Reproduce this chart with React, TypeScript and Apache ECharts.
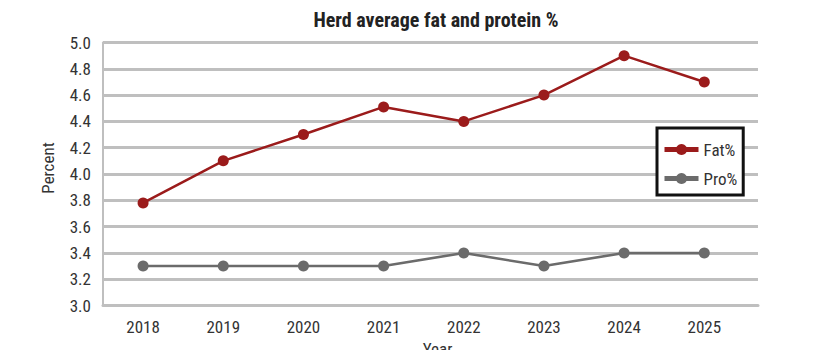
import React, { useEffect, useRef } from "react";
import * as echarts from "echarts";

const years = [2018, 2019, 2020, 2021, 2022, 2023, 2024, 2025];
const fatValues = [3.78, 4.1, 4.3, 4.51, 4.4, 4.6, 4.9, 4.7];
const proValues = [3.3, 3.3, 3.3, 3.3, 3.4, 3.3, 3.4, 3.4];
const titleText = "Herd average fat and protein %";

const FONT = "'Roboto Condensed', 'Liberation Sans Narrow', 'DejaVu Sans Condensed', Roboto, sans-serif";

export default function App() {
  const ref = useRef<HTMLDivElement>(null);
  useEffect(() => {
    if (!ref.current) return;
    const chart = echarts.init(ref.current, null, { renderer: "svg" });
    chart.setOption({
      animation: false,
      backgroundColor: "#ffffff",
      title: {
        text: titleText,
        left: 431,
        textAlign: "center",
        top: 5,
        textStyle: { fontFamily: FONT, fontSize: 20, fontWeight: "bold", color: "#222" },
      },
      grid: {
        left: 103,
        right: 59,
        top: 42.5,
        bottom: 52.5,
        containLabel: false,
        outerBoundsMode: "none",
      },
      legend: {
        orient: "vertical",
        left: 657,
        top: 128,
        width: 82,
        padding: [13, 6, 8, 5],
        itemGap: 12,
        itemWidth: 34,
        itemHeight: 14,
        borderColor: "#111",
        borderWidth: 3,
        backgroundColor: "#fff",
        lineStyle: { width: 5 },
        textStyle: { fontFamily: FONT, fontSize: 17, color: "#333" },
        data: ["Fat%", "Pro%"],
      },
      xAxis: {
        type: "value",
        min: 2017.5,
        max: 2025.67,
        interval: 0.5,
        name: "Year",
        nameLocation: "middle",
        nameGap: 35,
        nameTextStyle: { fontFamily: FONT, fontSize: 17, color: "#333", padding: [0, 0, 0, 14] },
        axisLine: { show: true, lineStyle: { color: "#bfbfbf", width: 3 } },
        axisTick: { show: false },
        splitLine: { show: false },
        axisLabel: {
          fontFamily: FONT,
          fontSize: 17,
          color: "#333",
          margin: 13,
          showMinLabel: false,
          showMaxLabel: false,
          formatter: (v: number) => (Math.abs(v - Math.round(v)) < 1e-6 ? String(Math.round(v)) : ""),
        },
      },
      yAxis: {
        type: "value",
        min: 3.0,
        max: 5.0,
        interval: 0.2,
        name: "Percent",
        nameLocation: "middle",
        nameGap: 47,
        nameTextStyle: { fontFamily: FONT, fontSize: 17, color: "#333", padding: [0, 0, 0, 12] },
        axisLine: { show: true, lineStyle: { color: "#bfbfbf", width: 2 } },
        axisTick: { show: false },
        splitLine: { show: true, lineStyle: { color: "#bfbfbf", width: 3 } },
        axisLabel: {
          fontFamily: FONT,
          fontSize: 17,
          color: "#333",
          margin: 12,
          formatter: (v: number) => v.toFixed(1),
        },
      },
      series: [
        {
          name: "Fat%",
          type: "line",
          data: years.map((y, i) => [y, fatValues[i]]),
          symbol: "circle",
          symbolSize: 11,
          lineStyle: { color: "#9b1b1b", width: 2.5 },
          itemStyle: { color: "#9b1b1b" },
        },
        {
          name: "Pro%",
          type: "line",
          data: years.map((y, i) => [y, proValues[i]]),
          symbol: "circle",
          symbolSize: 11,
          lineStyle: { color: "#6b6b6b", width: 2.5 },
          itemStyle: { color: "#6b6b6b" },
        },
      ],
    });
    return () => chart.dispose();
  }, []);
  return <div ref={ref} style={{ width: 817, height: 358, margin: -8 }} />;
}
